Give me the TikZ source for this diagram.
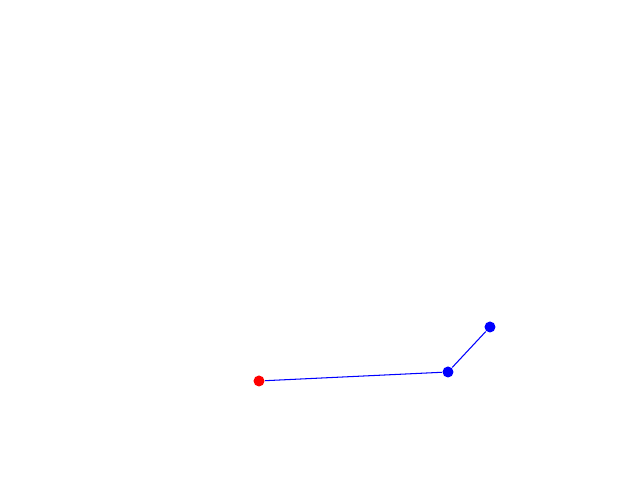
\documentclass[tikz,border=0pt]{standalone}
\usepackage{tikz}

\tikzset{dot/.style={circle, fill, inner sep=0pt, minimum size=1.1mm}}

\begin{document}
\begin{tikzpicture}

    \useasboundingbox (0,0) rectangle (6.4,4.8);

    \node[dot, red] (start) at (2.59,0.99) {};

    \node[dot, blue] (knee) at (4.48,1.08) {};

    \node[dot, blue] (tip) at (4.90,1.53) {};


    \draw[blue, line width=0.3pt] (start) -- (knee);

    \draw[blue, line width=0.3pt] (knee) -- (tip);

  \end{tikzpicture}
\end{document}
